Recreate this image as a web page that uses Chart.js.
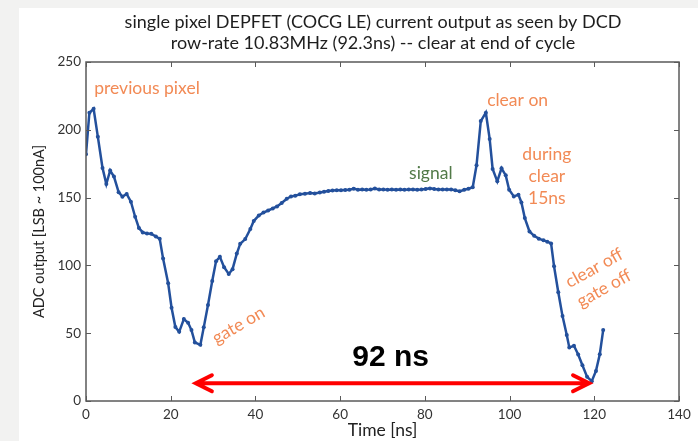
<!DOCTYPE html>
<html>
<head>
<meta charset="utf-8">
<script src="https://cdn.jsdelivr.net/npm/chart.js@4"></script>
<style>
  html, body { margin: 0; padding: 0; background: #f2f2f1; }
  #sheet { position: absolute; left: 19px; top: 8px; right: 0; bottom: 0; background: #fff; }
  #wrap { position: absolute; left: 0; top: 0; width: 698px; height: 441px; }
</style>
</head>
<body>
<div id="sheet"></div>
<div id="wrap"><canvas id="adcChart" width="698" height="441"></canvas></div>
<script>
const titleLines = [
  "single pixel DEPFET (COCG LE) current output as seen by DCD",
  "row-rate 10.83MHz (92.3ns) -- clear at end of cycle",
];
const timeNs = [
  0, 0.8, 1.8, 2.8, 3.9, 4.8, 5.7, 6.6, 7.7, 8.6, 9.6, 10.6, 11.6, 12.5, 13.4,
  14.4, 15.4, 16.5, 17.4, 18.2, 19.4, 20.2, 21.1, 22.0, 23.1, 24.1, 24.9, 25.7,
  27.0, 27.8, 28.8, 29.8, 30.7, 31.6, 32.6, 33.7, 34.6, 35.6, 36.4, 37.6, 38.8,
  39.6, 40.8, 41.9, 43.0, 44.1, 45.1, 46.2, 47.4, 48.4, 49.4, 50.5, 51.7, 52.9,
  54.0, 55.2, 56.2, 57.2, 58.2, 59.2, 60.2, 61.2, 62.2, 63.2, 64.2, 65.2, 66.2,
  67.2, 68.2, 69.2, 70.2, 71.2, 72.2, 73.2, 74.2, 75.2, 76.2, 77.2, 78.2, 79.2,
  80.2, 81.2, 82.2, 83.2, 84.2, 85.2, 86.2, 87.2, 88.2, 89.3, 90.3, 91.3, 92.2,
  93.2, 94.4, 95.3, 96.0, 97.1, 98.1, 99.1, 99.9, 101.0, 102.1, 102.8, 103.6,
  104.7, 105.8, 106.9, 108.0, 108.9, 109.8, 110.5, 111.5, 112.5, 113.5, 114.1,
  115.2, 116.2, 117.2, 118.3, 119.4, 120.4, 121.3, 122.1,
];
const adcValues = [
  182, 212.6, 215.5, 194.8, 171.9, 160, 170, 165.5, 154, 150.7, 152.7, 147,
  135.9, 127.5, 124.3, 123.5, 123.3, 121.3, 119.6, 105, 86.8, 68.8, 54.5, 51,
  60.4, 57.7, 52.3, 43.2, 41.4, 54.3, 70.8, 88.5, 103.1, 106.3, 98.7, 93.7,
  97.2, 108.7, 115.9, 119.4, 126.8, 132.7, 136.8, 139, 140.5, 142, 143.5, 146,
  149.2, 150.9, 151.4, 152.4, 152.9, 153.4, 153.1, 153.8, 154.3, 154.8, 155.2,
  155.5, 155.4, 155.6, 155.7, 156.6, 155.8, 155.9, 155.8, 156, 156.7, 156,
  155.9, 155.8, 155.9, 155.8, 155.9, 155.8, 156, 155.9, 155.8, 156, 156.4,
  156.8, 156.3, 156, 155.9, 156, 155.9, 155.5, 154.6, 155.8, 156.5, 157.6,
  173.8, 206.4, 212.6, 193.3, 171.1, 162, 171.6, 166.4, 155.8, 150.9, 152.1,
  146.4, 134.9, 125, 121.8, 119.7, 118.5, 117.5, 116.2, 99.4, 80.2, 62.6, 48.6,
  39.5, 40.7, 34.3, 26.4, 17.8, 14.6, 22.2, 34.5, 52.3,
];
const xTicks = [0, 20, 40, 60, 80, 100, 120, 140];
const yTicks = [0, 50, 100, 150, 200, 250];

// text notes: [text, x(ns), y(adc), colour, rotation(deg)]
const notes = [
  ["previous pixel", 14.4, 230.5, "#f28a55", 0],
  ["clear on", 101.9, 222, "#f28a55", 0],
  ["during", 108.8, 181.8, "#f28a55", 0],
  ["clear", 108.8, 165.7, "#f28a55", 0],
  ["15ns", 108.8, 149.7, "#f28a55", 0],
  ["signal", 81.4, 168, "#527a48", 0],
  ["gate on", 36.0, 55.8, "#f28a55", -30],
  ["clear off", 120.0, 98.0, "#f28a55", -29],
  ["gate off", 122.3, 83.0, "#f28a55", -29],
];
const spanLabel = "92 ns";
const spanFrom = 25.7;
const spanTo = 119;
const spanAt = 13.1;

const points = timeNs.map((t, i) => ({ x: t, y: adcValues[i] }));

const framePlugin = {
  id: "frame",
  afterDatasetsDraw(chart) {
    const { ctx, chartArea: a, scales } = chart;
    const x = scales.x, y = scales.y;
    ctx.save();
    ctx.strokeStyle = "#5a5a5a";
    ctx.lineWidth = 1.5;
    ctx.strokeRect(a.left, a.top, a.right - a.left, a.bottom - a.top);
    ctx.lineWidth = 1;
    ctx.beginPath();
    xTicks.forEach((v) => {
      const px = Math.round(x.getPixelForValue(v)) + 0.5;
      ctx.moveTo(px, a.bottom); ctx.lineTo(px, a.bottom - 5);
      ctx.moveTo(px, a.top); ctx.lineTo(px, a.top + 5);
    });
    yTicks.forEach((v) => {
      const py = Math.round(y.getPixelForValue(v)) + 0.5;
      ctx.moveTo(a.left, py); ctx.lineTo(a.left + 5, py);
      ctx.moveTo(a.right, py); ctx.lineTo(a.right - 5, py);
    });
    ctx.stroke();

    // red double arrow
    const x1 = x.getPixelForValue(spanFrom);
    const x2 = x.getPixelForValue(spanTo);
    const ya = y.getPixelForValue(spanAt);
    ctx.strokeStyle = "#ff0000";
    ctx.lineWidth = 4;
    ctx.lineCap = "round";
    ctx.beginPath();
    ctx.moveTo(x1 + 2, ya); ctx.lineTo(x2 - 2, ya);
    ctx.moveTo(x1 + 17, ya - 8); ctx.lineTo(x1 + 1, ya); ctx.lineTo(x1 + 17, ya + 8);
    ctx.moveTo(x2 - 17, ya - 8); ctx.lineTo(x2 - 1, ya); ctx.lineTo(x2 - 17, ya + 8);
    ctx.stroke();

    ctx.fillStyle = "#000";
    ctx.font = "bold 30px 'Liberation Sans', Arial, sans-serif";
    ctx.textAlign = "center";
    ctx.textBaseline = "middle";
    ctx.fillText(spanLabel, x.getPixelForValue(71.9), y.getPixelForValue(31.6));

    ctx.font = "17.5px Lato, sans-serif";
    notes.forEach(([text, vx, vy, colour, rot]) => {
      ctx.save();
      ctx.translate(x.getPixelForValue(vx), y.getPixelForValue(vy));
      ctx.rotate((rot * Math.PI) / 180);
      ctx.fillStyle = colour;
      ctx.fillText(text, 0, 0);
      ctx.restore();
    });

    ctx.fillStyle = "#1e1e1e";
    ctx.font = "18px Lato, sans-serif";
    ctx.fillText(titleLines[0], 373, 22);
    ctx.fillText(titleLines[1], 373, 43);
    ctx.restore();
  },
};

const ctx = document.getElementById("adcChart").getContext("2d");
new Chart(ctx, {
  type: "scatter",
  data: {
    datasets: [
      {
        data: points,
        showLine: true,
        borderColor: "#23509c",
        backgroundColor: "#23509c",
        borderWidth: 2.5,
        pointRadius: 2,
        pointBorderWidth: 0,
        tension: 0,
      },
    ],
  },
  options: {
    responsive: false,
    animation: false,
    layout: { padding: { top: 62, right: 19, left: 0, bottom: 0 } },
    plugins: { legend: { display: false }, tooltip: { enabled: false } },
    scales: {
      x: {
        type: "linear",
        min: 0,
        max: 140,
        afterBuildTicks: (s) => (s.ticks = xTicks.map((v) => ({ value: v }))),
        afterFit: (s) => (s.height = 40),
        grid: { display: false, drawTicks: false },
        border: { display: false },
        ticks: { color: "#333", font: { family: "Lato", size: 13.5 }, padding: 6 },
        title: {
          display: true,
          text: "Time [ns]",
          color: "#222",
          font: { family: "Lato", size: 17.5 },
          padding: { top: 0, bottom: 0 },
        },
      },
      y: {
        type: "linear",
        min: 0,
        max: 250,
        afterBuildTicks: (s) => (s.ticks = yTicks.map((v) => ({ value: v }))),
        afterFit: (s) => (s.width = 86),
        grid: { display: false, drawTicks: false },
        border: { display: false },
        ticks: { color: "#333", font: { family: "Lato", size: 13.5 }, padding: 5 },
        title: {
          display: true,
          text: "ADC output [LSB ~ 100nA]",
          color: "#222",
          font: { family: "Lato", size: 14.5 },
          padding: { top: 31, bottom: 0 },
        },
      },
    },
  },
  plugins: [framePlugin],
});
</script>
</body>
</html>
